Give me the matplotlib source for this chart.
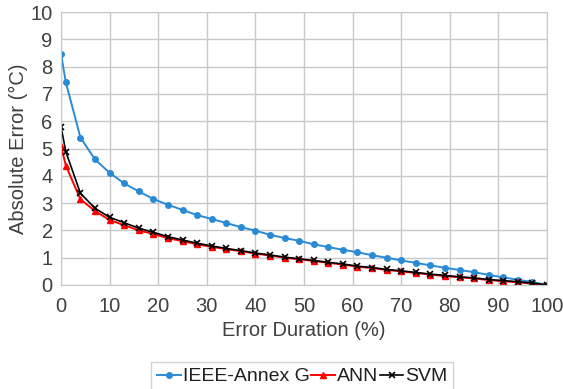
import matplotlib
matplotlib.use('Agg')
import matplotlib.pyplot as plt

plt.rcParams['font.family'] = ['Liberation Sans', 'DejaVu Sans']

# error duration (%)
duration = [0] + list(range(1, 101, 3))

ieee = [8.46, 7.42, 5.40, 4.60, 4.11, 3.72, 3.43, 3.15, 2.94, 2.75, 2.56, 2.42,
        2.27, 2.12, 1.99, 1.84, 1.72, 1.62, 1.49, 1.39, 1.29, 1.20, 1.09, 1.00,
        0.90, 0.81, 0.72, 0.63, 0.55, 0.47, 0.37, 0.28, 0.19, 0.11, 0.0]
ann = [5.10, 4.37, 3.14, 2.71, 2.38, 2.19, 2.00, 1.87, 1.71, 1.61, 1.49, 1.40,
       1.31, 1.24, 1.15, 1.08, 1.00, 0.94, 0.88, 0.81, 0.75, 0.67, 0.62, 0.55,
       0.50, 0.44, 0.38, 0.33, 0.28, 0.24, 0.18, 0.14, 0.10, 0.05, 0.0]
svm = [5.80, 4.88, 3.36, 2.81, 2.48, 2.28, 2.08, 1.93, 1.77, 1.65, 1.53, 1.43,
       1.34, 1.26, 1.17, 1.10, 1.02, 0.96, 0.90, 0.83, 0.77, 0.69, 0.64, 0.57,
       0.52, 0.46, 0.40, 0.35, 0.30, 0.26, 0.20, 0.16, 0.12, 0.07, 0.0]

fig = plt.figure(figsize=(5.63, 3.89), dpi=100)
ax = fig.add_axes([61/563, 1 - 285/389, 486/563, 273/389])

ax.plot(duration, ieee, color='#2a8bd5', marker='o', markersize=4, linewidth=1.4,
        label='IEEE-Annex G')
ax.plot(duration, ann, color='#ff0000', marker='^', markersize=4.5, linewidth=1.4,
        label='ANN')
ax.plot(duration, svm, color='black', marker='x', markersize=4, markeredgewidth=1.2,
        linewidth=1.2, label='SVM')

ax.set_xlim(0, 100)
ax.set_ylim(0, 10)
ax.set_xticks(range(0, 101, 10))
ax.set_yticks(range(0, 11, 1))
ax.grid(True, color='#c8c8c8', linewidth=1)
ax.set_axisbelow(True)
for s in ax.spines.values():
    s.set_color('#c8c8c8')
ax.tick_params(length=0, labelsize=14.5, colors='#404040', pad=6)
ax.tick_params(axis='x', pad=9)
ax.set_xlabel('Error Duration (%)', fontsize=14.5, color='#404040', labelpad=3)
ax.set_ylabel('Absolute Error (°C)', fontsize=14.5, color='#404040', labelpad=2)

leg = fig.legend(loc='upper center', bbox_to_anchor=(0.537, 1 - 362/389), ncol=3,
                 fontsize=14, frameon=True, fancybox=False, handlelength=1.2,
                 handletextpad=0.1, columnspacing=0.1, borderpad=0.3,
                 borderaxespad=0)
leg.get_frame().set_edgecolor('#c8c8c8')
for t in leg.get_texts():
    t.set_color('#202020')

fig.savefig('out.png', dpi=100)
